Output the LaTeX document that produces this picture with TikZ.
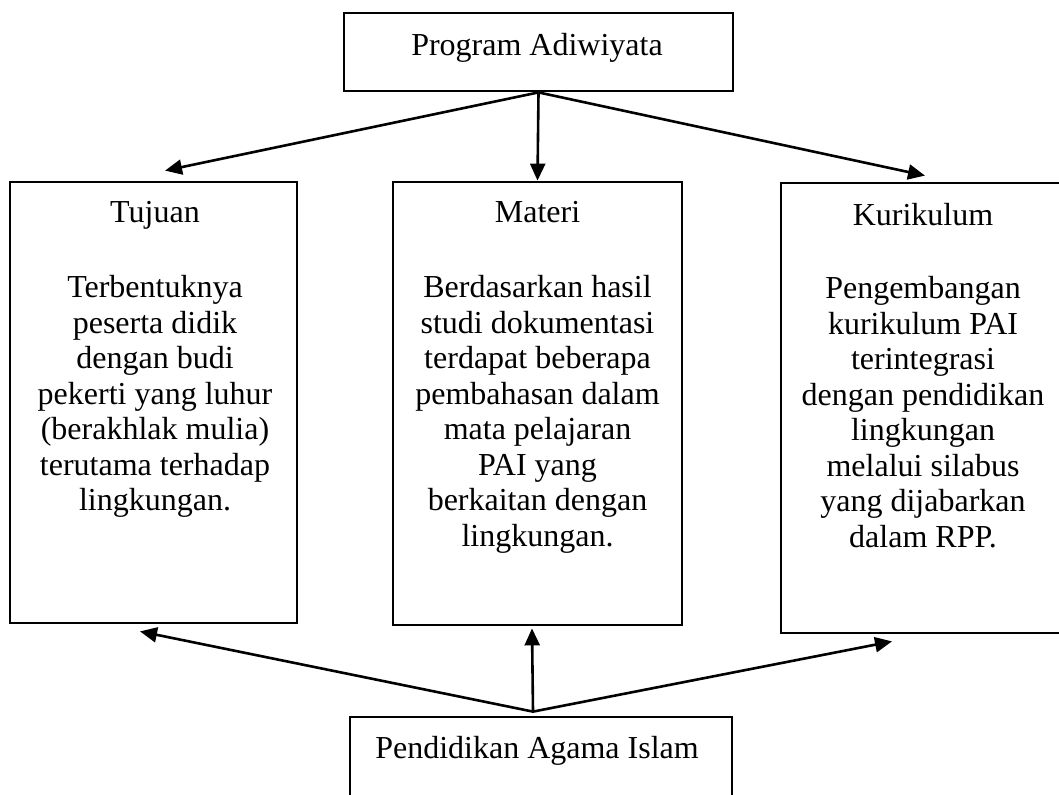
\documentclass[tikz,border=0pt]{standalone}
\usepackage{fontspec}
\setmainfont{Liberation Serif}
\usetikzlibrary{arrows.meta}
\usetikzlibrary{positioning}

\tikzset{
  kotak/.style={draw, line width=1.4pt, inner sep=0pt},
  teks/.style={font=\fontsize{16}{17.75}\selectfont, align=center, inner sep=0pt},
  panah/.style={-{Triangle[length=8.5pt,width=7.5pt]}, line width=1.3pt}
}

\begin{document}
\begin{tikzpicture}[x=.5pt,y=-.5pt]
\useasboundingbox (0,0) rectangle (1059,794);
% kotak
\node[kotak, minimum width=194.5pt, minimum height=39pt] (prog) at (538.5,52) {};
\node[kotak, minimum width=143.5pt, minimum height=220.5pt] (tujuan) at (153.5,402.5) {};
\node[kotak, minimum width=144.5pt, minimum height=221.5pt] (materi) at (537.5,403.5) {};
\node[kotak, minimum width=142pt, minimum height=225pt] (kurikulum) at (923,408) {};
\node[kotak, minimum width=191pt, minimum height=42pt] (pai) at (541,759) {};
% teks
\node[teks, anchor=base] (progT) at (537,55) {Program Adiwiyata};
\node[teks, anchor=base] (tujuanT) at (155,222) {Tujuan};
\node[teks, anchor=north] (tujuanB) at (155,275) {Terbentuknya\\peserta didik\\dengan budi\\pekerti yang luhur\\(berakhlak mulia)\\terutama terhadap\\lingkungan.};
\node[teks, anchor=base] (materiT) at (537.5,222) {Materi};
\node[teks, anchor=north] (materiB) at (537.5,275) {Berdasarkan hasil\\studi dokumentasi\\terdapat beberapa\\pembahasan dalam\\mata pelajaran\\PAI yang\\berkaitan dengan\\lingkungan.};
\node[teks, anchor=base] (kurikulumT) at (923,225) {Kurikulum};
\node[teks, anchor=north] (kurikulumB) at (923,276) {Pengembangan\\kurikulum PAI\\terintegrasi\\dengan pendidikan\\lingkungan\\melalui silabus\\yang dijabarkan\\dalam RPP.};
\node[teks, anchor=base] (paiT) at (537,758) {Pendidikan Agama Islam};
% ujung panah
\coordinate (tujuan-in) at ([shift={(11.5,-10)}]tujuan.north);
\coordinate (kurikulum-in) at ([shift={(2,-6)}]kurikulum.north);
\coordinate (pai-out) at ([shift={(-8,-4)}]pai.north);
\coordinate (tujuan-bawah) at ([shift={(-13.5,7)}]tujuan.south);
\coordinate (materi-bawah) at ([shift={(-5.5,2)}]materi.south);
\coordinate (kurikulum-bawah) at ([shift={(-31,7)}]kurikulum.south);
% panah
\draw[panah] (prog.south) -- (tujuan-in);
\draw[panah] (prog.south) -- (materi.north);
\draw[panah] (prog.south) -- (kurikulum-in);
\draw[panah] (pai-out) -- (tujuan-bawah);
\draw[panah] (pai-out) -- (materi-bawah);
\draw[panah] (pai-out) -- (kurikulum-bawah);
\end{tikzpicture}
\end{document}
